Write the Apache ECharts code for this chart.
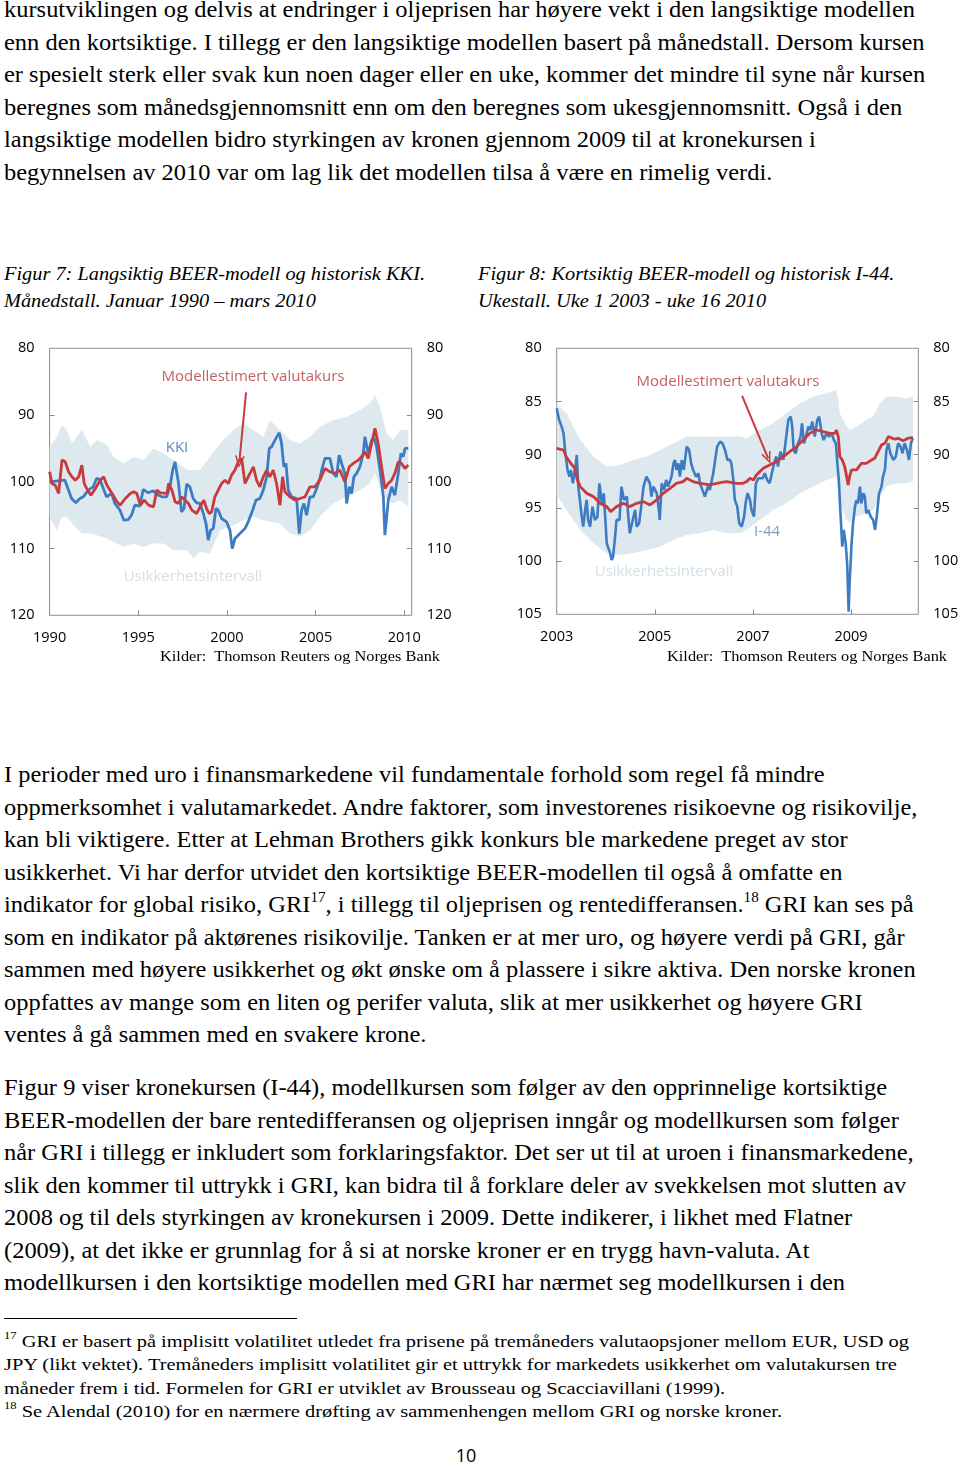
<!DOCTYPE html>
<html><head><meta charset="utf-8">
<script src="https://cdn.jsdelivr.net/npm/echarts@6/dist/echarts.min.js"></script>
<style>
html,body{margin:0;padding:0;background:#fff;width:960px;height:1465px;overflow:hidden;position:relative}
.blk{position:absolute;white-space:nowrap;transform-origin:0 0;color:#000;font-family:"Liberation Serif","Times New Roman",serif}
.blk div{white-space:nowrap}
sup.s{font-size:0.62em;line-height:0;vertical-align:0;position:relative;top:-0.72em}
#charts{position:absolute;left:0;top:330px;width:960px;height:345px}
#rule{position:absolute;left:4px;top:1318px;width:293px;height:1px;background:#000}
#pg{position:absolute;left:0;width:932px;top:1443px;text-align:center;font-family:"Open Sans",sans-serif;font-size:18px;line-height:24px;color:#000}
</style></head><body>
<div id="charts"></div>
<div id="rule"></div>
<div id="pg">10</div>
<script>
// ---------------- DATA ----------------
// Figur 7 (monthly, 1990 - March 2010): [year, index]
const kki = [[1990.00,100.0],[1990.49,99.85],[1990.86,99.75],[1991.24,102.5],[1991.48,103.15],[1991.71,102.5],[1991.90,102.25],[1992.18,101.25],[1992.46,100.75],[1992.65,99.5],[1992.84,99.65],[1993.03,101.0],[1993.21,102.25],[1993.50,101.75],[1993.68,103.25],[1993.97,104.25],[1994.19,105.75],[1994.44,105.65],[1994.62,105.0],[1994.81,103.5],[1995.09,103.65],[1995.19,103.9],[1995.28,101.15],[1995.56,101.65],[1995.85,101.35],[1996.03,101.85],[1996.32,102.25],[1996.60,102.25],[1996.79,100.75],[1996.94,98.25],[1997.07,97.0],[1997.26,100.0],[1997.44,104.5],[1997.58,104.0],[1997.73,100.35],[1997.91,100.75],[1998.10,102.5],[1998.29,103.15],[1998.48,103.25],[1998.67,104.75],[1998.82,106.25],[1998.95,108.75],[1999.08,107.25],[1999.23,107.0],[1999.38,104.0],[1999.51,104.25],[1999.70,105.5],[1999.98,106.0],[2000.17,107.25],[2000.30,110.0],[2000.45,108.5],[2000.64,108.0],[2000.83,107.5],[2001.02,107.0],[2001.20,106.0],[2001.45,104.25],[2001.64,102.75],[2001.86,102.5],[2002.05,101.25],[2002.24,99.25],[2002.39,95.0],[2002.52,94.75],[2002.71,93.75],[2002.95,92.65],[2003.08,94.25],[2003.21,97.75],[2003.33,97.25],[2003.46,101.25],[2003.65,102.25],[2003.93,102.5],[2004.08,107.75],[2004.21,104.25],[2004.34,103.25],[2004.49,105.0],[2004.68,102.25],[2004.87,102.25],[2005.06,101.0],[2005.24,99.5],[2005.39,97.75],[2005.53,96.5],[2005.81,96.5],[2006.00,98.75],[2006.18,99.25],[2006.33,96.0],[2006.47,97.25],[2006.65,98.75],[2006.75,103.25],[2006.90,100.75],[2007.03,101.75],[2007.16,99.25],[2007.31,98.75],[2007.50,97.75],[2007.69,95.75],[2007.78,93.25],[2007.97,95.75],[2008.16,93.75],[2008.29,93.35],[2008.44,94.75],[2008.63,98.25],[2008.82,102.25],[2008.91,108.0],[2009.10,102.75],[2009.29,100.75],[2009.47,102.0],[2009.66,98.75],[2009.81,95.75],[2009.94,96.25],[2010.04,95.0],[2010.23,95.0]];
const model1 = [[1990.00,98.5],[1990.13,100.25],[1990.32,100.5],[1990.51,101.75],[1990.70,96.75],[1990.88,97.0],[1991.07,98.5],[1991.26,99.25],[1991.45,99.75],[1991.64,99.25],[1991.82,97.5],[1991.95,100.25],[1992.14,101.25],[1992.33,102.0],[1992.58,101.0],[1992.86,99.75],[1993.05,99.25],[1993.23,100.5],[1993.52,101.75],[1993.80,103.0],[1993.98,103.5],[1994.27,102.5],[1994.55,101.75],[1994.74,101.5],[1994.92,101.75],[1995.11,103.5],[1995.34,102.75],[1995.58,103.5],[1995.86,103.75],[1996.05,101.25],[1996.24,101.65],[1996.62,101.75],[1996.71,100.25],[1996.90,101.25],[1997.08,103.0],[1997.26,103.25],[1997.45,102.25],[1997.64,102.75],[1997.83,103.25],[1998.02,104.25],[1998.29,104.75],[1998.48,103.75],[1998.70,102.75],[1998.85,104.0],[1999.00,104.75],[1999.14,104.5],[1999.32,102.25],[1999.51,101.25],[1999.70,100.25],[1999.89,99.75],[2000.08,100.25],[2000.26,99.0],[2000.45,98.25],[2000.64,97.0],[2000.83,96.5],[2001.02,100.25],[2001.20,99.25],[2001.49,97.75],[2001.67,99.75],[2001.86,100.75],[2002.05,99.25],[2002.24,98.25],[2002.42,99.25],[2002.61,98.25],[2002.80,100.25],[2002.99,103.5],[2003.14,99.25],[2003.27,101.5],[2003.55,102.25],[2003.84,102.75],[2004.12,102.5],[2004.40,102.25],[2004.68,100.75],[2004.96,100.75],[2005.24,99.75],[2005.53,98.0],[2005.81,98.5],[2006.09,98.75],[2006.37,98.25],[2006.65,100.0],[2006.90,97.75],[2007.12,97.25],[2007.41,96.75],[2007.59,96.25],[2007.78,95.5],[2007.97,96.5],[2008.16,94.25],[2008.35,92.0],[2008.53,94.25],[2008.72,97.75],[2008.91,101.0],[2009.10,100.25],[2009.29,99.75],[2009.47,98.75],[2009.66,97.0],[2009.85,97.25],[2010.04,98.0],[2010.23,97.5]];
const band1Years = [1990.00,1990.41,1990.70,1990.98,1991.26,1991.82,1992.29,1992.67,1993.23,1993.61,1994.17,1994.74,1995.30,1995.86,1996.43,1996.99,1997.74,1998.12,1998.48,1999.05,1999.61,2000.36,2000.92,2001.49,2002.05,2002.42,2002.99,2003.55,2004.12,2004.68,2005.24,2006.00,2006.75,2007.50,2008.07,2008.35,2008.63,2009.01,2009.38,2009.76,2010.23];
const band1Top = [94.75,93.25,91.5,92.25,94.25,92.25,94.75,93.75,94.5,96.25,97.25,96.25,96.75,95.0,95.75,96.75,98.25,98.25,98.25,96.25,94.25,92.25,91.25,92.25,93.25,90.75,92.25,93.75,94.25,93.25,91.75,90.75,90.25,89.25,88.25,87.0,88.75,92.75,93.75,92.25,92.25];
const band1Bottom = [105.25,107.25,105.25,105.25,106.25,107.75,107.75,108.0,108.5,109.0,109.75,109.25,109.75,109.25,109.25,110.25,110.25,111.5,110.5,110.75,107.25,106.5,105.75,105.25,105.75,106.0,106.25,107.75,108.25,107.25,105.25,103.25,102.25,101.25,100.25,98.75,100.75,102.75,103.25,102.75,103.75];

// Figur 8 (weekly, week 1 2003 - week 16 2010): [year, index]
const i44 = [[2003.00,85.64],[2003.05,86.74],[2003.10,87.36],[2003.14,87.99],[2003.17,89.56],[2003.22,91.43],[2003.26,92.06],[2003.29,91.43],[2003.33,92.69],[2003.36,91.75],[2003.39,90.81],[2003.41,90.03],[2003.44,93.0],[2003.48,94.57],[2003.51,95.82],[2003.54,96.76],[2003.58,95.19],[2003.61,94.25],[2003.64,96.13],[2003.68,96.76],[2003.73,94.88],[2003.78,96.13],[2003.83,95.82],[2003.87,92.69],[2003.92,94.57],[2003.96,93.63],[2004.02,98.33],[2004.09,99.27],[2004.12,99.89],[2004.15,99.58],[2004.19,97.70],[2004.22,96.13],[2004.28,96.13],[2004.32,93.0],[2004.37,94.25],[2004.43,93.94],[2004.46,95.82],[2004.49,97.39],[2004.55,96.13],[2004.60,95.19],[2004.63,96.76],[2004.68,96.45],[2004.73,94.57],[2004.77,93.0],[2004.83,92.06],[2004.90,92.69],[2004.93,93.94],[2004.97,93.0],[2005.04,93.63],[2005.09,95.51],[2005.10,96.13],[2005.14,92.69],[2005.19,93.31],[2005.23,92.37],[2005.27,93.0],[2005.34,92.06],[2005.38,90.81],[2005.41,90.49],[2005.44,91.43],[2005.48,90.81],[2005.51,92.06],[2005.55,90.49],[2005.59,91.43],[2005.65,89.24],[2005.70,89.56],[2005.74,90.81],[2005.78,91.43],[2005.84,92.06],[2005.89,91.75],[2005.92,92.69],[2005.97,93.31],[2006.02,93.94],[2006.08,93.0],[2006.12,93.31],[2006.19,91.75],[2006.22,90.81],[2006.27,89.24],[2006.33,88.77],[2006.38,88.93],[2006.43,89.56],[2006.48,90.49],[2006.53,90.49],[2006.56,90.81],[2006.60,92.37],[2006.63,94.25],[2006.68,94.88],[2006.72,96.45],[2006.77,96.76],[2006.82,95.82],[2006.85,94.57],[2006.89,93.63],[2006.94,94.25],[2006.97,95.19],[2007.02,95.82],[2007.06,92.69],[2007.11,92.22],[2007.14,92.06],[2007.20,92.22],[2007.24,91.75],[2007.29,92.37],[2007.34,92.69],[2007.40,91.43],[2007.45,90.49],[2007.48,90.18],[2007.51,91.12],[2007.56,89.71],[2007.62,90.49],[2007.67,88.62],[2007.72,86.74],[2007.77,86.42],[2007.80,87.36],[2007.83,89.56],[2007.87,89.87],[2007.92,88.93],[2007.97,88.30],[2008.00,87.05],[2008.04,88.93],[2008.08,88.30],[2008.13,87.36],[2008.17,87.68],[2008.21,86.89],[2008.26,88.30],[2008.31,86.74],[2008.35,86.42],[2008.40,87.99],[2008.44,88.62],[2008.50,87.99],[2008.55,88.30],[2008.60,87.99],[2008.65,88.62],[2008.69,88.93],[2008.72,90.81],[2008.75,92.37],[2008.78,95.19],[2008.82,98.64],[2008.85,97.07],[2008.89,98.33],[2008.92,100.21],[2008.95,104.75],[2008.97,102.09],[2009.01,98.33],[2009.04,96.45],[2009.08,94.88],[2009.11,94.25],[2009.14,94.57],[2009.18,93.0],[2009.21,94.57],[2009.25,93.63],[2009.28,93.94],[2009.31,95.51],[2009.35,95.19],[2009.40,95.82],[2009.45,96.13],[2009.49,97.07],[2009.53,95.51],[2009.57,93.63],[2009.62,93.0],[2009.65,92.06],[2009.69,91.43],[2009.72,89.56],[2009.76,88.93],[2009.80,89.87],[2009.86,90.49],[2009.91,90.18],[2009.96,88.93],[2010.01,89.24],[2010.05,89.87],[2010.09,88.93],[2010.14,89.56],[2010.18,90.49],[2010.22,88.93],[2010.26,88.46]];
const model2 = [[2003.00,89.40],[2003.14,89.56],[2003.19,90.18],[2003.31,90.96],[2003.37,91.28],[2003.42,92.37],[2003.48,93.0],[2003.61,93.63],[2003.75,93.94],[2003.88,94.57],[2004.02,94.88],[2004.10,95.35],[2004.22,94.88],[2004.36,94.57],[2004.49,94.88],[2004.63,94.57],[2004.77,94.41],[2004.90,94.72],[2005.04,94.25],[2005.17,93.63],[2005.31,93.16],[2005.44,92.69],[2005.58,92.53],[2005.65,92.22],[2005.78,92.53],[2005.92,92.69],[2006.12,92.84],[2006.33,92.63],[2006.46,92.53],[2006.67,92.69],[2006.80,92.69],[2006.87,92.53],[2006.94,92.22],[2007.01,92.37],[2007.07,91.90],[2007.21,91.28],[2007.34,90.96],[2007.48,90.65],[2007.62,90.18],[2007.75,89.71],[2007.89,89.24],[2008.02,88.62],[2008.16,87.99],[2008.30,87.68],[2008.43,87.83],[2008.57,87.99],[2008.67,87.99],[2008.70,87.68],[2008.74,88.30],[2008.77,90.18],[2008.82,90.49],[2008.87,91.12],[2008.91,92.06],[2008.94,92.84],[2008.97,92.06],[2009.01,91.43],[2009.11,91.43],[2009.21,90.81],[2009.31,90.81],[2009.42,90.49],[2009.48,90.34],[2009.55,89.71],[2009.62,89.09],[2009.69,88.93],[2009.76,88.30],[2009.80,88.15],[2009.89,88.55],[2009.96,88.46],[2010.06,88.68],[2010.16,88.46],[2010.26,88.36]];
const band2Years = [2003.00,2003.20,2003.48,2003.75,2004.02,2004.29,2004.56,2004.83,2005.10,2005.38,2005.65,2005.92,2006.19,2006.46,2006.73,2006.87,2007.14,2007.41,2007.68,2007.96,2008.23,2008.50,2008.70,2008.74,2008.77,2008.91,2008.97,2009.11,2009.31,2009.45,2009.59,2009.72,2009.92,2010.13,2010.26];
const band2Top = [85.33,86.11,88.62,90.18,91.12,90.96,90.49,90.18,89.56,88.93,88.30,88.30,88.30,88.30,88.30,88.46,87.68,87.05,86.11,85.17,84.54,84.23,83.92,84.86,86.11,87.36,87.68,87.36,86.74,86.42,85.17,84.54,84.54,84.70,84.54];
const band2Bottom = [93.78,95.19,97.07,98.33,99.27,99.42,99.27,98.95,98.64,98.01,97.54,97.39,97.07,97.39,97.39,97.07,96.13,95.19,94.57,93.63,93.0,92.37,92.06,93.0,94.57,96.13,96.45,95.82,95.51,95.19,93.94,93.0,92.69,92.69,92.53];

// tick labels
const ticks1X = [1990,1995,2000,2005,2010];
const ticks1Y = [80,90,100,110,120];
const ticks2X = [2003,2005,2007,2009];
const ticks2Y = [80,85,90,95,100,105];

// ---------------- TEXT ----------------
const para1 = [
 'kursutviklingen og delvis at endringer i oljeprisen har høyere vekt i den langsiktige modellen',
 'enn den kortsiktige. I tillegg er den langsiktige modellen basert på månedstall. Dersom kursen',
 'er spesielt sterk eller svak kun noen dager eller en uke, kommer det mindre til syne når kursen',
 'beregnes som månedsgjennomsnitt enn om den beregnes som ukesgjennomsnitt. Også i den',
 'langsiktige modellen bidro styrkingen av kronen gjennom 2009 til at kronekursen i',
 'begynnelsen av 2010 var om lag lik det modellen tilsa å være en rimelig verdi.'];
const cap1 = ['Figur 7: Langsiktig BEER-modell og historisk KKI.','Månedstall. Januar 1990 – mars 2010'];
const cap2 = ['Figur 8: Kortsiktig BEER-modell og historisk I-44.','Ukestall. Uke 1 2003 - uke 16 2010'];
const source = 'Kilder:&nbsp; Thomson Reuters og Norges Bank';
const para2 = [
 'I perioder med uro i finansmarkedene vil fundamentale forhold som regel få mindre',
 'oppmerksomhet i valutamarkedet. Andre faktorer, som investorenes risikoevne og risikovilje,',
 'kan bli viktigere. Etter at Lehman Brothers gikk konkurs ble markedene preget av stor',
 'usikkerhet. Vi har derfor utvidet den kortsiktige BEER-modellen til også å omfatte en',
 'indikator for global risiko, GRI<sup class="s">17</sup>, i tillegg til oljeprisen og rentedifferansen.<sup class="s">18</sup> GRI kan ses på',
 'som en indikator på aktørenes risikovilje. Tanken er at mer uro, og høyere verdi på GRI, går',
 'sammen med høyere usikkerhet og økt ønske om å plassere i sikre aktiva. Den norske kronen',
 'oppfattes av mange som en liten og perifer valuta, slik at mer usikkerhet og høyere GRI',
 'ventes å gå sammen med en svakere krone.'];
const para3 = [
 'Figur 9 viser kronekursen (I-44), modellkursen som følger av den opprinnelige kortsiktige',
 'BEER-modellen der bare rentedifferansen og oljeprisen inngår og modellkursen som følger',
 'når GRI i tillegg er inkludert som forklaringsfaktor. Det ser ut til at uroen i finansmarkedene,',
 'slik den kommer til uttrykk i GRI, kan bidra til å forklare deler av svekkelsen mot slutten av',
 '2008 og til dels styrkingen av kronekursen i 2009. Dette indikerer, i likhet med Flatner',
 '(2009), at det ikke er grunnlag for å si at norske kroner er en trygg havn-valuta. At',
 'modellkursen i den kortsiktige modellen med GRI har nærmet seg modellkursen i den'];
const notes = [
 '<sup class="s">17</sup> GRI er basert på implisitt volatilitet utledet fra prisene på tremåneders valutaopsjoner mellom EUR, USD og',
 'JPY (likt vektet). Tremåneders implisitt volatilitet gir et uttrykk for markedets usikkerhet om valutakursen tre',
 'måneder frem i tid. Formelen for GRI er utviklet av Brousseau og Scacciavillani (1999).',
 '<sup class="s">18</sup> Se Alendal (2010) for en nærmere drøfting av sammenhengen mellom GRI og norske kroner.'];

function block(lines, o){
  const d=document.createElement('div'); d.className='blk';
  d.style.left=o.left+'px'; d.style.top=o.top+'px';
  d.style.fontSize=o.fs+'px'; d.style.lineHeight=o.lh+'px';
  if(o.italic) d.style.fontStyle='italic';
  lines.forEach(t=>{const r=document.createElement('div');const s=document.createElement('span');s.innerHTML=t;r.appendChild(s);d.appendChild(r);});
  document.body.appendChild(d);
  let f=o.scale;
  if(o.refW){const w=d.children[o.refI||0].firstChild.getBoundingClientRect().width; f=o.refW/w;}
  if(f) d.style.transform='scaleX('+f+')';
  return f;
}
const bodyF = block(para1,{left:4,top:-6,fs:22.5,lh:32.5,refW:911,refI:0});
block(para2,{left:4,top:759,fs:22.5,lh:32.5,scale:bodyF});
block(para3,{left:4,top:1072,fs:22.5,lh:32.5,scale:bodyF});
const capF = block(cap1,{left:4,top:260,fs:19.5,lh:27,italic:true,refW:421,refI:0});
block(cap2,{left:478,top:260,fs:19.5,lh:27,italic:true,scale:capF});
const srcF = block([source],{left:160,top:647,fs:15.5,lh:18,refW:280});
block([source],{left:667,top:647,fs:15.5,lh:18,scale:srcF});
block(notes,{left:4,top:1330,fs:17.5,lh:23.3,refW:905,refI:0});

// ---------------- CHARTS ----------------
const RED='#c83a3c', BLUE='#3d7cc2', BAND='#dde9ef', BORDER='#8c8c8c';
const lblStyle={fontFamily:'"Open Sans", sans-serif',fontSize:14.5,color:'#000'};
const yLabels=(arr)=>({...lblStyle,margin:15,customValues:arr,formatter:v=>String(Math.round(v))});
const xLabels=(arr)=>({...lblStyle,margin:15,customValues:arr,formatter:v=>String(Math.round(v))});

function xAx(g,min,max,lbls,tks){return {type:'value',gridIndex:g,min:min,max:max,splitLine:{show:false},axisLine:{show:false},
  axisTick:{show:true,inside:true,length:5,lineStyle:{color:BORDER},customValues:tks},axisLabel:xLabels(lbls)};}
function yAx(g,pos,max,intv,lbls,tks){return {type:'value',gridIndex:g,position:pos,inverse:true,min:80,max:max,interval:intv,
  splitLine:{show:false},axisLine:{show:false},axisTick:{show:true,inside:true,length:5,lineStyle:{color:BORDER},customValues:tks},axisLabel:yLabels(lbls)};}

const arrowHead='path://M0,12 L6,0 L12,12 L10,12 L6,3.5 L2,12 Z';
// uncertainty band: polygon through upper edge then back along lower edge, placed via the axes
function bandSeries(xi,yi,years,top,bottom){
  return {type:'custom',xAxisIndex:xi,yAxisIndex:yi,silent:true,z:1,clip:true,
    encode:{x:0,y:1},data:[[years[0],top[0]]],
    renderItem:function(params,api){
      const pts=[];
      for(let i=0;i<years.length;i++) pts.push(api.coord([years[i],top[i]]));
      for(let i=years.length-1;i>=0;i--) pts.push(api.coord([years[i],bottom[i]]));
      return {type:'polygon',shape:{points:pts},style:{fill:BAND}};
    }};
}
function arrow(from,to){return {silent:true,symbol:['none',arrowHead],symbolSize:[10,12],animation:false,
  lineStyle:{color:RED,width:2,type:'solid'},label:{show:false},emphasis:{disabled:true},
  data:[[{coord:from},{coord:to}]]};}

const chart=echarts.init(document.getElementById('charts'),null,{renderer:'canvas'});
chart.setOption({
  animation:false,
  grid:[
    {left:49.6,top:18.3,width:362.1,height:267,show:true,borderColor:BORDER,borderWidth:1,outerBoundsMode:'none',containLabel:false},
    {left:556.7,top:18.3,width:361.6,height:266,show:true,borderColor:BORDER,borderWidth:1,outerBoundsMode:'none',containLabel:false}
  ],
  xAxis:[xAx(0,1990,2010.42,ticks1X,[1995,2000,2005,2010]), xAx(1,2003,2010.37,ticks2X,[2005,2007,2009])],
  yAxis:[
    yAx(0,'left',120,10,ticks1Y,[90,100,110]), yAx(0,'right',120,10,ticks1Y,[90,100,110]),
    yAx(1,'left',105,5,ticks2Y,[85,90,95,100]), yAx(1,'right',105,5,ticks2Y,[85,90,95,100])
  ],
  series:[
    bandSeries(0,0,band1Years,band1Top,band1Bottom),
    {type:'line',xAxisIndex:0,yAxisIndex:0,symbol:'none',data:kki,lineStyle:{color:BLUE,width:2.8},z:3},
    {type:'line',xAxisIndex:0,yAxisIndex:0,symbol:'none',data:model1,lineStyle:{color:RED,width:2.8},z:4,
      markLine:arrow([2001.08,86.6],[2000.70,97.0])},
    bandSeries(1,2,band2Years,band2Top,band2Bottom),
    {type:'line',xAxisIndex:1,yAxisIndex:2,symbol:'none',data:i44,lineStyle:{color:BLUE,width:2.6},z:3},
    {type:'line',xAxisIndex:1,yAxisIndex:2,symbol:'none',data:model2,lineStyle:{color:RED,width:2.8},z:4,
      markLine:arrow([2006.78,84.48],[2007.31,90.34])}
  ],
  graphic:[
    {type:'text',x:253,y:46.7,style:{text:'Modellestimert valutakurs',fill:'#c46163',font:'15px "Open Sans", sans-serif',align:'center',verticalAlign:'middle'}},
    {type:'text',x:177,y:118,style:{text:'KKI',fill:'#5a86bd',font:'15px "Open Sans", sans-serif',align:'center',verticalAlign:'middle'}},
    {type:'text',x:193,y:247,style:{text:'Usikkerhetsintervall',fill:'#d2e0e8',font:'15px "Open Sans", sans-serif',align:'center',verticalAlign:'middle'}},
    {type:'text',x:728,y:51.7,style:{text:'Modellestimert valutakurs',fill:'#c46163',font:'15px "Open Sans", sans-serif',align:'center',verticalAlign:'middle'}},
    {type:'text',x:767,y:202,style:{text:'I-44',fill:'#7f9dba',font:'15px "Open Sans", sans-serif',align:'center',verticalAlign:'middle'}},
    {type:'text',x:664,y:242,style:{text:'Usikkerhetsintervall',fill:'#d2e0e8',font:'15px "Open Sans", sans-serif',align:'center',verticalAlign:'middle'}}
  ]
});
</script>
</body></html>
